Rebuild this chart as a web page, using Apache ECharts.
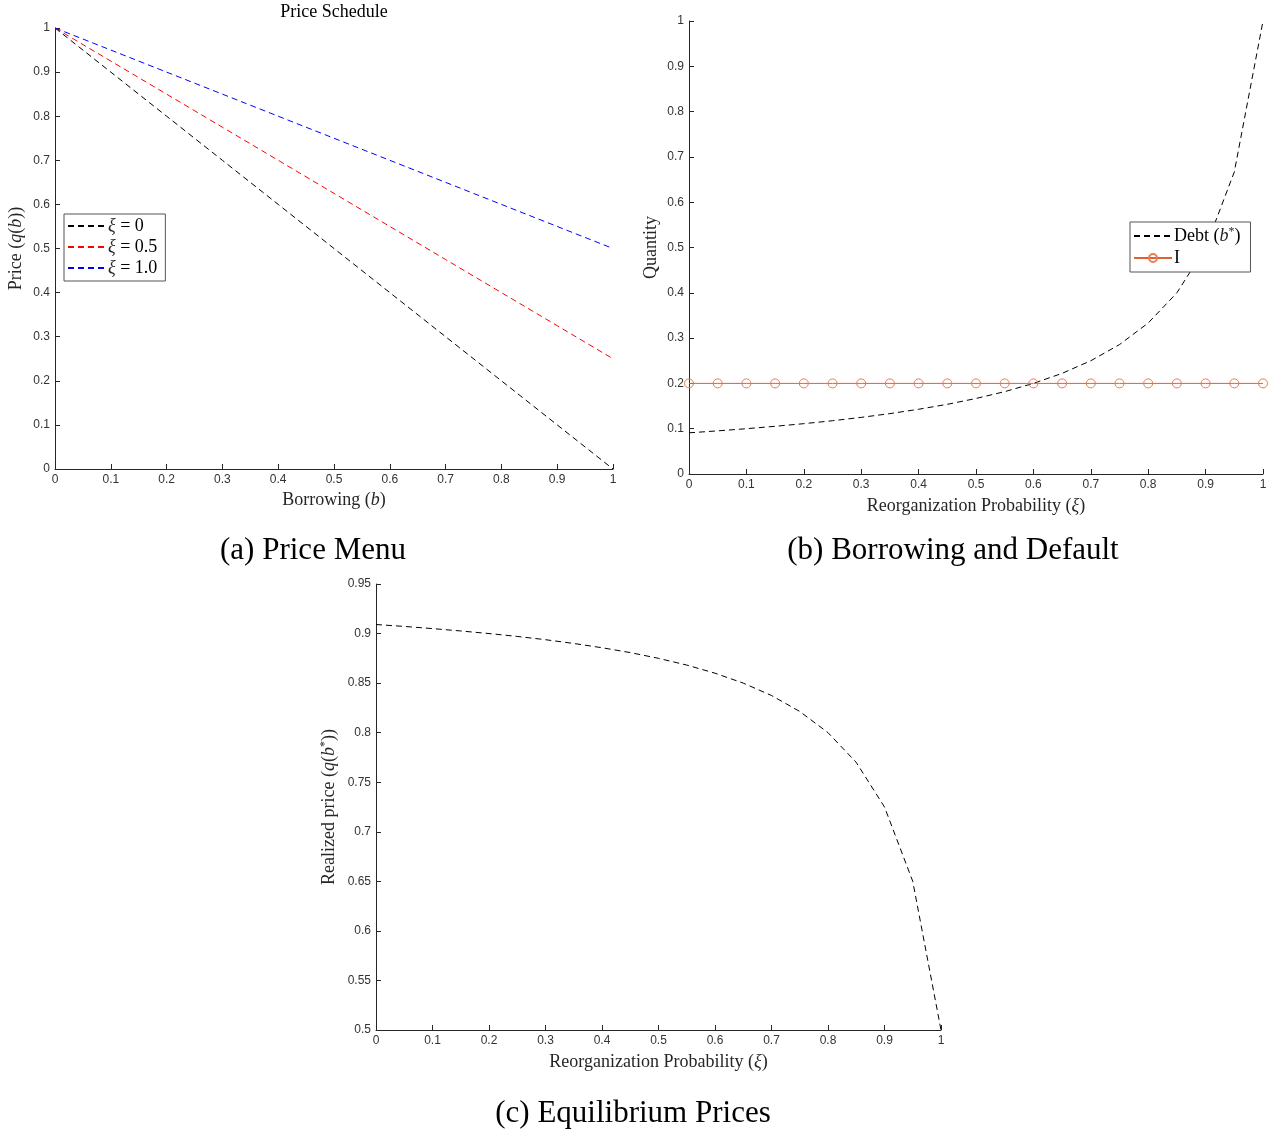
<!DOCTYPE html>
<html>
<head>
<meta charset="utf-8">
<script src="https://cdn.jsdelivr.net/npm/echarts@6/dist/echarts.min.js"></script>
<style>
html,body{margin:0;padding:0;background:#fff;}
#chart{width:1282px;height:1135px;}
</style>
</head>
<body>
<div id="chart"></div>
<script>
// ---- Data ----
const borrowGrid = [0, 0.1, 0.2, 0.3, 0.4, 0.5, 0.6, 0.7, 0.8, 0.9, 1];
const priceXi0   = [1, 0.9, 0.8, 0.7, 0.6, 0.5, 0.4, 0.3, 0.2, 0.1, 0];
const priceXi05  = [1, 0.925, 0.85, 0.775, 0.7, 0.625, 0.55, 0.475, 0.4, 0.325, 0.25];
const priceXi10  = [1, 0.95, 0.9, 0.85, 0.8, 0.75, 0.7, 0.65, 0.6, 0.55, 0.5];

const xiGrid = [0, 0.05, 0.1, 0.15, 0.2, 0.25, 0.3, 0.35, 0.4, 0.45, 0.5, 0.55, 0.6, 0.65, 0.7, 0.75, 0.8, 0.85, 0.9, 0.95, 1];
const debtB  = [0.0909, 0.0952, 0.1, 0.1053, 0.1111, 0.1176, 0.125, 0.1333, 0.1429, 0.1538, 0.1667, 0.1818, 0.2, 0.2222, 0.25, 0.2857, 0.3333, 0.4, 0.5, 0.6667, 1.0];
const investI = [0.2, 0.2, 0.2, 0.2, 0.2, 0.2, 0.2, 0.2, 0.2, 0.2, 0.2, 0.2, 0.2, 0.2, 0.2, 0.2, 0.2, 0.2, 0.2, 0.2, 0.2];
const realizedPrice = [0.9091, 0.9072, 0.905, 0.9026, 0.9, 0.8971, 0.8938, 0.89, 0.8857, 0.8808, 0.875, 0.8682, 0.86, 0.85, 0.8375, 0.8214, 0.8, 0.77, 0.725, 0.65, 0.5];

const legendA = ['ξ = 0', 'ξ = 0.5', 'ξ = 1.0'];
const legendB = ['Debt (b*)', 'I'];

// ---- Helpers ----
const pair = (xs, ys) => xs.map((x, i) => [x, ys[i]]);
const SERIF = 'Liberation Serif';
const SANS = 'Liberation Sans';
const AX = '#262626';
const NAME_FS = 18;
const richI = { i: { fontStyle: 'italic', fontFamily: SERIF, fontSize: NAME_FS, color: AX },
                s: { fontFamily: SERIF, fontSize: 12, color: AX, verticalAlign: 'top', padding: [0,0,8,0] } };

function axis(gridIndex, min, max, interval, name, nameGap, isY) {
  const a = {
    type: 'value', gridIndex, min, max, interval,
    name, nameLocation: 'middle', nameGap,
    nameTextStyle: { fontFamily: SERIF, fontSize: NAME_FS, color: AX, rich: richI },
    axisLine: { show: true, onZero: false, lineStyle: { color: AX, width: 1 } },
    axisTick: { show: true, inside: true, length: 5, lineStyle: { color: AX } },
    axisLabel: { fontFamily: SANS, fontSize: 12, color: '#333', margin: 5 },
    splitLine: { show: false }
  };
  if (isY) a.nameRotate = 90;
  return a;
}

const dashed = (color) => ({ color, width: 1, type: [6, 4] });
const noSym = (name) => ({ name, itemStyle: { opacity: 0 } });

const legendBase = {
  orient: 'vertical', itemGap: 3, itemWidth: 38, itemHeight: 14,
  borderColor: '#555', borderWidth: 1, backgroundColor: '#fff', borderRadius: 0,
  selectedMode: false,
  textStyle: { fontFamily: SERIF, fontSize: NAME_FS, color: '#000', padding: [0,0,0,-3], rich: richI }
};

const option = {
  animation: false,
  backgroundColor: '#fff',
  grid: [
    { left: 55, top: 28, width: 558, height: 441 },
    { left: 689, top: 21, width: 574, height: 453 },
    { left: 376, top: 584, width: 565, height: 446 }
  ],
  xAxis: [
    axis(0, 0, 1, 0.1, 'Borrowing ({i|b})', 22, false),
    axis(1, 0, 1, 0.1, 'Reorganization Probability ({i|ξ})', 23, false),
    axis(2, 0, 1, 0.1, 'Reorganization Probability ({i|ξ})', 23, false)
  ],
  yAxis: [
    axis(0, 0, 1, 0.1, 'Price ({i|q}({i|b}))', 30, true),
    axis(1, 0, 1, 0.1, 'Quantity', 29, true),
    axis(2, 0.5, 0.95, 0.05, 'Realized price ({i|q}({i|b}{s|*}))', 37, true)
  ],
  legend: [
    Object.assign({}, legendBase, {
      data: legendA.map(noSym), left: 64, top: 214, padding: [3, 8, 4, 3],
      formatter: (n) => n.replace('ξ', '{i|ξ}')
    }),
    Object.assign({}, legendBase, {
      data: [noSym(legendB[0]), legendB[1]], left: 1130, top: 222, padding: [4, 10, 5, 3],
      itemHeight: 10, itemGap: 4,
      formatter: (n) => n === 'I' ? 'I' : 'Debt ({i|b}{s|*})'
    })
  ],
  graphic: [
    { type: 'text', style: { text: 'Price Schedule', x: 334, y: 12, textAlign: 'center', textVerticalAlign: 'middle', font: '18px "Liberation Serif"', fill: '#000' } },
    { type: 'text', style: { text: '(a) Price Menu', x: 313, y: 551, textAlign: 'center', textVerticalAlign: 'middle', font: '31px "Liberation Serif"', fill: '#000' } },
    { type: 'text', style: { text: '(b) Borrowing and Default', x: 953, y: 551, textAlign: 'center', textVerticalAlign: 'middle', font: '31px "Liberation Serif"', fill: '#000' } },
    { type: 'text', style: { text: '(c) Equilibrium Prices', x: 633, y: 1114, textAlign: 'center', textVerticalAlign: 'middle', font: '31px "Liberation Serif"', fill: '#000' } }
  ],
  series: [
    { name: legendA[0], type: 'line', xAxisIndex: 0, yAxisIndex: 0, data: pair(borrowGrid, priceXi0),
      symbol: 'none', lineStyle: dashed('#000'), itemStyle: { color: '#000' } },
    { name: legendA[1], type: 'line', xAxisIndex: 0, yAxisIndex: 0, data: pair(borrowGrid, priceXi05),
      symbol: 'none', lineStyle: dashed('#ff0000'), itemStyle: { color: '#ff0000' } },
    { name: legendA[2], type: 'line', xAxisIndex: 0, yAxisIndex: 0, data: pair(borrowGrid, priceXi10),
      symbol: 'none', lineStyle: dashed('#0000ff'), itemStyle: { color: '#0000ff' } },
    { name: legendB[0], type: 'line', xAxisIndex: 1, yAxisIndex: 1, data: pair(xiGrid, debtB),
      symbol: 'none', lineStyle: dashed('#000'), itemStyle: { color: '#000' } },
    { name: legendB[1], type: 'line', xAxisIndex: 1, yAxisIndex: 1, data: pair(xiGrid, investI),
      symbol: 'circle', symbolSize: 9, showAllSymbol: true,
      lineStyle: { color: '#E2602F', width: 1 },
      itemStyle: { color: 'rgba(255,255,255,0)', borderColor: '#EE7A55', borderWidth: 1 } },
    { name: 'price', type: 'line', xAxisIndex: 2, yAxisIndex: 2, data: pair(xiGrid, realizedPrice),
      symbol: 'none', lineStyle: dashed('#000'), itemStyle: { color: '#000' } }
  ]
};

const chart = echarts.init(document.getElementById('chart'), null, { renderer: 'canvas' });
chart.setOption(option);
</script>
</body>
</html>
